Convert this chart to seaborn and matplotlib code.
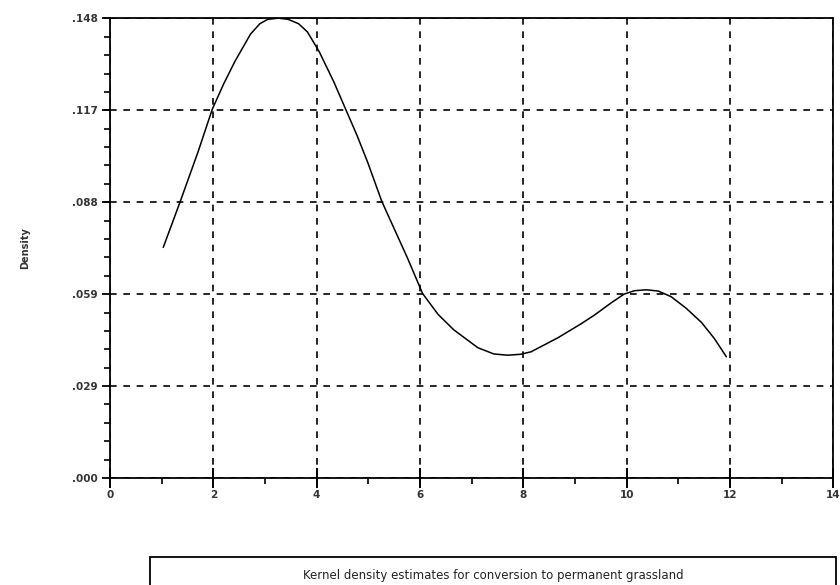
import numpy as np
import pandas as pd
import matplotlib
matplotlib.use("Agg")
import matplotlib.pyplot as plt
import seaborn as sns
from matplotlib.patches import Rectangle
from matplotlib.ticker import MultipleLocator, FixedLocator, AutoMinorLocator

# Data
x_vals = [1.03, 1.36, 1.70, 1.98, 2.20, 2.42, 2.72, 2.90, 3.05, 3.26, 3.45, 3.65,
          3.82, 4.05, 4.33, 4.56, 4.78, 4.99, 5.26, 5.76, 6.05, 6.35, 6.65, 7.12,
          7.43, 7.70, 7.95, 8.15, 8.67, 9.12, 9.37, 9.70, 9.95, 10.15, 10.38, 10.61,
          10.86, 11.15, 11.45, 11.70, 11.93]
density = [0.0740, 0.0888, 0.1045, 0.1184, 0.1265, 0.1338, 0.1425, 0.1458, 0.1472,
           0.1476, 0.1472, 0.1458, 0.1432, 0.1368, 0.1272, 0.1184, 0.1100, 0.1012,
           0.0888, 0.0705, 0.0592, 0.0525, 0.0476, 0.0418, 0.0398, 0.0394, 0.0397,
           0.0405, 0.0450, 0.0495, 0.0522, 0.0562, 0.0590, 0.0601, 0.0604, 0.0600,
           0.0582, 0.0545, 0.0499, 0.0447, 0.0389]
y_tick_values = [0.0, 0.0295, 0.0590, 0.0886, 0.1181, 0.1476]
y_tick_labels = [".000", ".029", ".059", ".088", ".117", ".148"]
x_tick_values = [0, 2, 4, 6, 8, 10, 12, 14]
x_tick_labels = ["0", "2", "4", "6", "8", "10", "12", "14"]
y_label = "Density"
caption = "Kernel density estimates for conversion to permanent grassland"

df = pd.DataFrame({"x": x_vals, "density": density})

sns.set_style("white")
plt.rcParams["font.family"] = ["DejaVu Sans"]

fig = plt.figure(figsize=(8.4, 5.85), dpi=100)
ax = fig.add_axes([0.131, 0.183, 0.861, 0.786])

sns.lineplot(data=df, x="x", y="density", ax=ax, color="black", linewidth=1.1)

ax.set_xlim(0, 14)
ax.set_ylim(0, 0.1476)
ax.xaxis.set_major_locator(FixedLocator(x_tick_values))
ax.set_xticklabels(x_tick_labels)
ax.xaxis.set_minor_locator(MultipleLocator(1))
ax.yaxis.set_major_locator(FixedLocator(y_tick_values))
ax.set_yticklabels(y_tick_labels)
ax.yaxis.set_minor_locator(AutoMinorLocator(5))

ax.grid(True, which="major", color="black", linestyle=(0, (4, 4)), linewidth=1.2)

for s in ax.spines.values():
    s.set_visible(True)
    s.set_color("black")
    s.set_linewidth(1.3)

ax.tick_params(axis="both", which="both", bottom=True, left=True, top=False, right=False)
ax.tick_params(axis="y", which="major", direction="out", length=6, width=1.3,
               labelsize=7.5, labelcolor="#333333", color="black", pad=3)
ax.tick_params(axis="x", which="major", direction="inout", length=14, width=1.4,
               labelsize=7.5, labelcolor="#333333", color="black", pad=2)
ax.tick_params(axis="both", which="minor", direction="out", length=4, width=1.2,
               color="black")
for lab in ax.get_xticklabels() + ax.get_yticklabels():
    lab.set_fontweight("bold")

ax.set_xlabel("")
ax.set_ylabel(y_label, fontsize=7, fontweight="bold", color="#333333", labelpad=30)

# caption box
box = Rectangle((150 / 840, -0.02), (836 - 150) / 840, 0.068, transform=fig.transFigure,
                fill=False, edgecolor="black", linewidth=1.3, clip_on=False)
fig.patches.append(box)
fig.text(493 / 840, 1 - 575 / 585, caption, ha="center", va="center", fontsize=8.5,
         color="#222222")

fig.savefig("out.png", dpi=100)
